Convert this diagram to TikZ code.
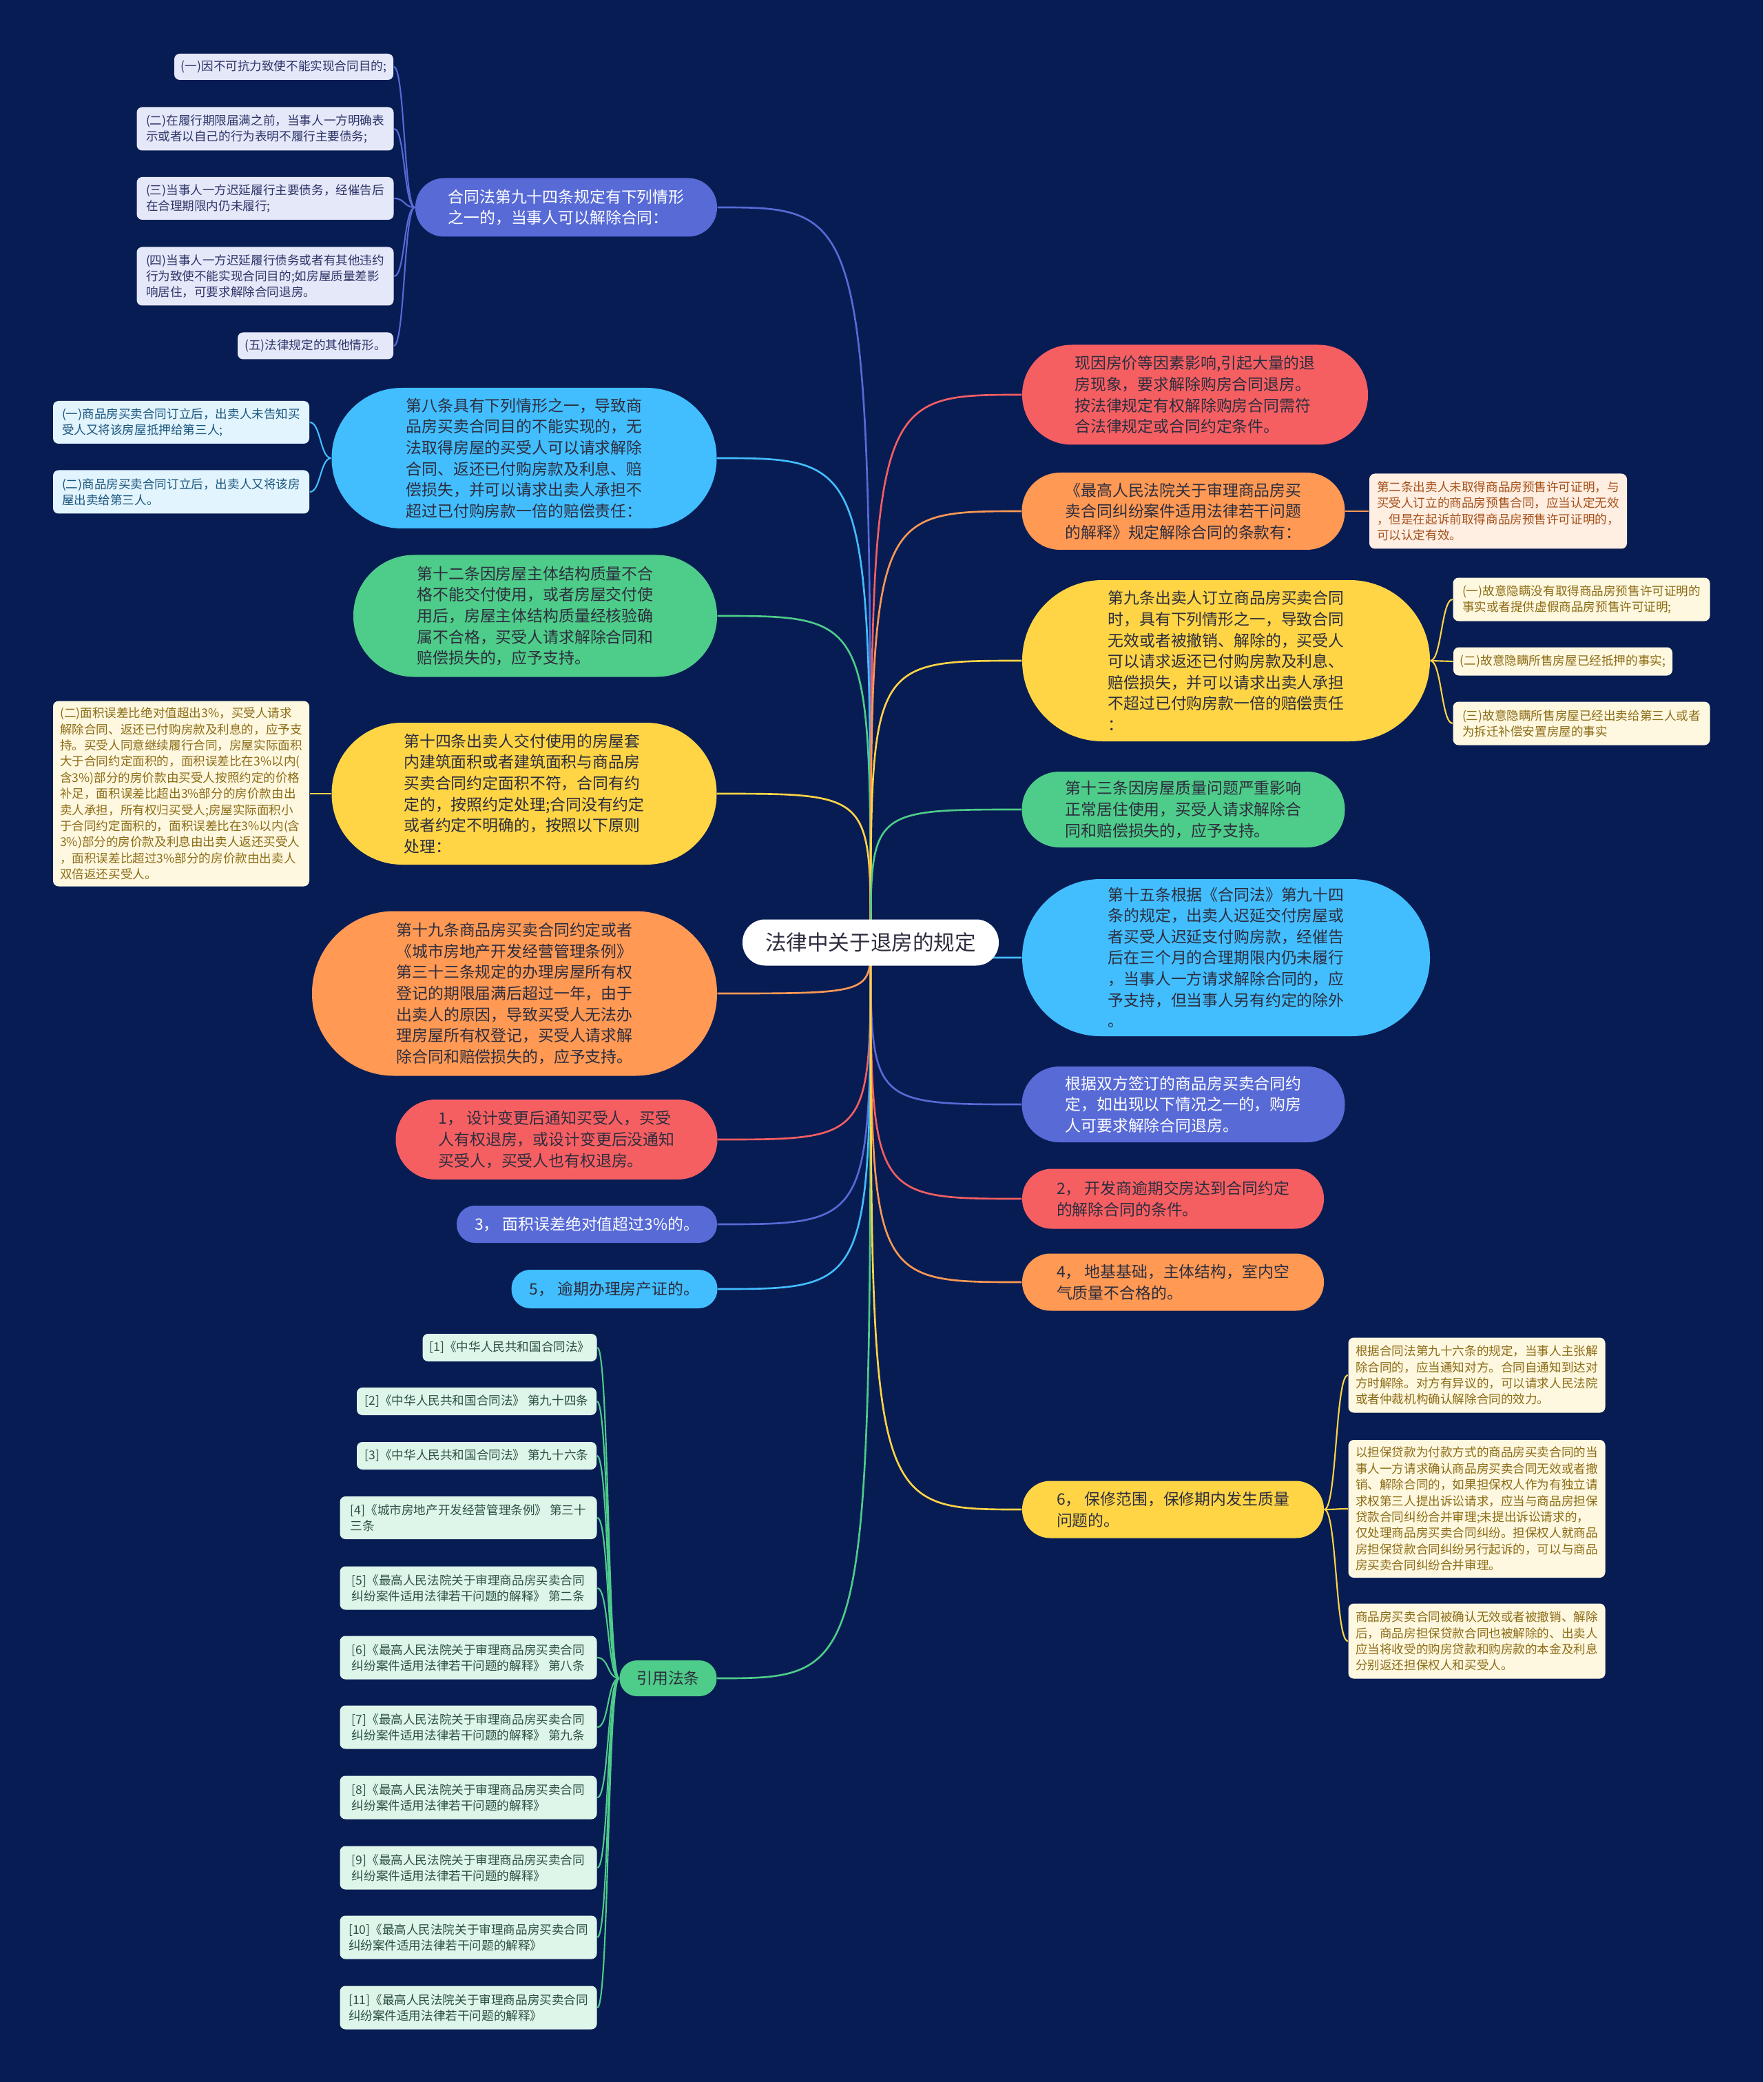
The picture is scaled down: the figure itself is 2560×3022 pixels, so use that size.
\documentclass[tikz,border=0pt]{standalone}
\usepackage{fontspec}
\setmainfont{Noto Sans CJK SC}
\usetikzlibrary{calc}
\definecolor{mmnavy}{RGB}{8,28,84}
\definecolor{mmindigo}{RGB}{87,106,214}
\definecolor{mmsky}{RGB}{66,190,255}
\definecolor{mmgreen}{RGB}{78,204,137}
\definecolor{mmyellow}{RGB}{255,213,69}
\definecolor{mmorange}{RGB}{255,153,84}
\definecolor{mmred}{RGB}{246,95,98}
\definecolor{mmink}{RGB}{45,45,62}
\definecolor{lfindigo}{RGB}{229,232,248}
\definecolor{lfindigoink}{RGB}{45,52,105}
\definecolor{lfsky}{RGB}{226,244,254}
\definecolor{lfskyink}{RGB}{25,85,125}
\definecolor{lfcream}{RGB}{255,248,224}
\definecolor{lfcreamink}{RGB}{140,108,22}
\definecolor{lfpeach}{RGB}{255,238,226}
\definecolor{lfpeachink}{RGB}{165,80,25}
\definecolor{lfmint}{RGB}{222,245,234}
\definecolor{lfmintink}{RGB}{45,80,68}
\newcommand{\rootsize}{\fontsize{8.7pt}{10.4pt}\selectfont}
\newcommand{\topicsize}{\fontsize{6.5pt}{8.7pt}\selectfont}
\newcommand{\leafsize}{\fontsize{5pt}{6.65pt}\selectfont}
\pgfdeclarelayer{bg}
\pgfdeclarelayer{links}
\pgfsetlayers{bg,links,main}

\begin{document}
\begin{tikzpicture}[x=0.01cm,y=-0.01cm,
    every node/.style={inner sep=0pt},
    dims/.style 2 args={minimum width=#1*0.01cm,minimum height=#2*0.01cm},
    pill/.style 2 args={dims={#1}{#2},rounded corners=#2*0.005cm-0.2pt},
    topic/.style={fill=#1,text=mmink,font=\topicsize,align=left},
    note/.style 2 args={fill=#1,text=#2,font=\leafsize,align=left,
                        rounded corners=0.08cm},
    link/.style={draw=#1,line width=0.75pt},
    twig/.style={draw=#1,line width=0.6pt}]

  \useasboundingbox (0,0) rectangle (2560,3022);
  \begin{pgfonlayer}{bg}
    \fill[mmnavy] (0,0) rectangle (2560,3022);
  \end{pgfonlayer}

  %% centre
  \node[pill={372}{67},fill=white,text=mmink,font=\rootsize] (root) at (1264,1368)
       {法律中关于退房的规定};

  %% left topics
  \node[topic=mmindigo,text=white,pill={438}{85}] (law94) at (822,301)
       {合同法第九十四条规定有下列情形\\之一的，当事人可以解除合同：};
  \node[topic=mmsky,pill={559}{204}] (art8) at (761,665)
       {第八条具有下列情形之一，导致商\\品房买卖合同目的不能实现的，无\\法取得房屋的买受人可以请求解除\\合同、返还已付购房款及利息、赔\\偿损失，并可以请求出卖人承担不\\超过已付购房款一倍的赔偿责任：};
  \node[topic=mmgreen,pill={528}{177}] (art12) at (777,894)
       {第十二条因房屋主体结构质量不合\\格不能交付使用，或者房屋交付使\\用后，房屋主体结构质量经核验确\\属不合格，买受人请求解除合同和\\赔偿损失的，应予支持。};
  \node[topic=mmyellow,pill={559}{206}] (art14) at (761,1152)
       {第十四条出卖人交付使用的房屋套\\内建筑面积或者建筑面积与商品房\\买卖合同约定面积不符，合同有约\\定的，按照约定处理;合同没有约定\\或者约定不明确的，按照以下原则\\处理：};
  \node[topic=mmorange,pill={588}{239}] (art19) at (747,1442)
       {第十九条商品房买卖合同约定或者\\《城市房地产开发经营管理条例》\\第三十三条规定的办理房屋所有权\\登记的期限届满后超过一年，由于\\出卖人的原因，导致买受人无法办\\理房屋所有权登记，买受人请求解\\除合同和赔偿损失的，应予支持。};
  \node[topic=mmred,pill={467}{116}] (item1) at (808,1654)
       {1， 设计变更后通知买受人，买受\\人有权退房，或设计变更后没通知\\买受人，买受人也有权退房。};
  \node[topic=mmindigo,text=white,pill={378}{54}] (item3) at (852,1777)
       {3， 面积误差绝对值超过3\%的。};
  \node[topic=mmsky,pill={299}{56}] (item5) at (892,1871)
       {5， 逾期办理房产证的。};
  \node[topic=mmgreen,pill={141}{52}] (refs) at (970,2436) {引用法条};

  %% right topics
  \node[topic=mmred,pill={502}{145}] (now) at (1735,573)
       {现因房价等因素影响,引起大量的退\\房现象，要求解除购房合同退房。\\按法律规定有权解除购房合同需符\\合法律规定或合同约定条件。};
  \node[topic=mmorange,pill={469}{112}] (interp) at (1718,742)
       {《最高人民法院关于审理商品房买\\卖合同纠纷案件适用法律若干问题\\的解释》规定解除合同的条款有：};
  \node[topic=mmyellow,pill={592}{234}] (art9) at (1780,959)
       {第九条出卖人订立商品房买卖合同\\时，具有下列情形之一，导致合同\\无效或者被撤销、解除的，买受人\\可以请求返还已付购房款及利息、\\赔偿损失，并可以请求出卖人承担\\不超过已付购房款一倍的赔偿责任\\：};
  \node[topic=mmgreen,pill={469}{110}] (art13) at (1718,1175)
       {第十三条因房屋质量问题严重影响\\正常居住使用，买受人请求解除合\\同和赔偿损失的，应予支持。};
  \node[topic=mmsky,pill={592}{228}] (art15) at (1780,1390)
       {第十五条根据《合同法》第九十四\\条的规定，出卖人迟延交付房屋或\\者买受人迟延支付购房款，经催告\\后在三个月的合理期限内仍未履行\\，当事人一方请求解除合同的，应\\予支持，但当事人另有约定的除外\\。};
  \node[topic=mmindigo,text=white,pill={469}{110}] (deal) at (1718,1603)
       {根据双方签订的商品房买卖合同约\\定，如出现以下情况之一的，购房\\人可要求解除合同退房。};
  \node[topic=mmred,pill={438}{87}] (item2) at (1703,1740)
       {2， 开发商逾期交房达到合同约定\\的解除合同的条件。};
  \node[topic=mmorange,pill={438}{83}] (item4) at (1703,1861)
       {4， 地基基础，主体结构，室内空\\气质量不合格的。};
  \node[topic=mmyellow,pill={438}{83}] (item6) at (1703,2191)
       {6， 保修范围，保修期内发生质量\\问题的。};

  %% leaves of law94
  \node[note={lfindigo}{lfindigoink},dims={318}{38}] (l94a) at (412,97)
       {(一)因不可抗力致使不能实现合同目的;};
  \node[note={lfindigo}{lfindigoink},dims={373}{63}] (l94b) at (385,187)
       {(二)在履行期限届满之前，当事人一方明确表\\示或者以自己的行为表明不履行主要债务;};
  \node[note={lfindigo}{lfindigoink},dims={373}{62}] (l94c) at (385,288)
       {(三)当事人一方迟延履行主要债务，经催告后\\在合理期限内仍未履行;};
  \node[note={lfindigo}{lfindigoink},dims={373}{85}] (l94d) at (385,401)
       {(四)当事人一方迟延履行债务或者有其他违约\\行为致使不能实现合同目的;如房屋质量差影\\响居住，可要求解除合同退房。};
  \node[note={lfindigo}{lfindigoink},dims={226}{39}] (l94e) at (458,502)
       {(五)法律规定的其他情形。};

  %% leaves of art8 and art14
  \node[note={lfsky}{lfskyink},dims={372}{62}] (art8a) at (263,613)
       {(一)商品房买卖合同订立后，出卖人未告知买\\受人又将该房屋抵押给第三人;};
  \node[note={lfsky}{lfskyink},dims={372}{63}] (art8b) at (263,714)
       {(二)商品房买卖合同订立后，出卖人又将该房\\屋出卖给第三人。};
  \node[note={lfcream}{lfcreamink},dims={372}{269}] (art14b) at (263,1152)
       {(二)面积误差比绝对值超出3\%，买受人请求\\解除合同、返还已付购房款及利息的，应予支\\持。买受人同意继续履行合同，房屋实际面积\\大于合同约定面积的，面积误差比在3\%以内(\\含3\%)部分的房价款由买受人按照约定的价格\\补足，面积误差比超出3\%部分的房价款由出\\卖人承担，所有权归买受人;房屋实际面积小\\于合同约定面积的，面积误差比在3\%以内(含\\3\%)部分的房价款及利息由出卖人返还买受人\\，面积误差比超过3\%部分的房价款由出卖人\\双倍返还买受人。};

  %% right leaves
  \node[note={lfpeach}{lfpeachink},dims={374}{109}] (interpa) at (2175,742)
       {第二条出卖人未取得商品房预售许可证明，与\\买受人订立的商品房预售合同，应当认定无效\\，但是在起诉前取得商品房预售许可证明的，\\可以认定有效。};
  \node[note={lfcream}{lfcreamink},dims={373}{63}] (art9a) at (2296,870)
       {(一)故意隐瞒没有取得商品房预售许可证明的\\事实或者提供虚假商品房预售许可证明;};
  \node[note={lfcream}{lfcreamink},dims={318}{41}] (art9b) at (2269,960)
       {(二)故意隐瞒所售房屋已经抵押的事实;};
  \node[note={lfcream}{lfcreamink},dims={373}{63}] (art9c) at (2296,1050)
       {(三)故意隐瞒所售房屋已经出卖给第三人或者\\为拆迁补偿安置房屋的事实};
  \node[note={lfcream}{lfcreamink},dims={373}{109}] (item6a) at (2144,1996)
       {根据合同法第九十六条的规定，当事人主张解\\除合同的，应当通知对方。合同自通知到达对\\方时解除。对方有异议的，可以请求人民法院\\或者仲裁机构确认解除合同的效力。};
  \node[note={lfcream}{lfcreamink},dims={373}{200}] (item6b) at (2144,2190)
       {以担保贷款为付款方式的商品房买卖合同的当\\事人一方请求确认商品房买卖合同无效或者撤\\销、解除合同的，如果担保权人作为有独立请\\求权第三人提出诉讼请求，应当与商品房担保\\贷款合同纠纷合并审理;未提出诉讼请求的，\\仅处理商品房买卖合同纠纷。担保权人就商品\\房担保贷款合同纠纷另行起诉的，可以与商品\\房买卖合同纠纷合并审理。};
  \node[note={lfcream}{lfcreamink},dims={373}{109}] (item6c) at (2144,2382)
       {商品房买卖合同被确认无效或者被撤销、解除\\后，商品房担保贷款合同也被解除的、出卖人\\应当将收受的购房贷款和购房款的本金及利息\\分别返还担保权人和买受人。};

  %% references
  \node[note={lfmint}{lfmintink},dims={253}{40}] (ref1) at (740,1956)
       {[1]《中华人民共和国合同法》};
  \node[note={lfmint}{lfmintink},dims={348}{40}] (ref2) at (692,2034)
       {[2]《中华人民共和国合同法》 第九十四条};
  \node[note={lfmint}{lfmintink},dims={348}{40}] (ref3) at (692,2113)
       {[3]《中华人民共和国合同法》 第九十六条};
  \node[note={lfmint}{lfmintink},dims={373}{62}] (ref4) at (680,2203)
       {[4]《城市房地产开发经营管理条例》 第三十\\三条};
  \node[note={lfmint}{lfmintink},dims={373}{63}] (ref5) at (680,2305)
       {[5]《最高人民法院关于审理商品房买卖合同\\纠纷案件适用法律若干问题的解释》 第二条};
  \node[note={lfmint}{lfmintink},dims={373}{63}] (ref6) at (680,2406)
       {[6]《最高人民法院关于审理商品房买卖合同\\纠纷案件适用法律若干问题的解释》 第八条};
  \node[note={lfmint}{lfmintink},dims={373}{63}] (ref7) at (680,2507)
       {[7]《最高人民法院关于审理商品房买卖合同\\纠纷案件适用法律若干问题的解释》 第九条};
  \node[note={lfmint}{lfmintink},dims={373}{63}] (ref8) at (680,2609)
       {[8]《最高人民法院关于审理商品房买卖合同\\纠纷案件适用法律若干问题的解释》};
  \node[note={lfmint}{lfmintink},dims={373}{63}] (ref9) at (680,2711)
       {[9]《最高人民法院关于审理商品房买卖合同\\纠纷案件适用法律若干问题的解释》};
  \node[note={lfmint}{lfmintink},dims={373}{63}] (ref10) at (680,2812)
       {[10]《最高人民法院关于审理商品房买卖合同\\纠纷案件适用法律若干问题的解释》};
  \node[note={lfmint}{lfmintink},dims={373}{63}] (ref11) at (680,2914)
       {[11]《最高人民法院关于审理商品房买卖合同\\纠纷案件适用法律若干问题的解释》};

  \begin{pgfonlayer}{links}
  %% centre to topics
  \draw[link=mmindigo] (root.center) .. controls (root.center |- law94.east) .. (law94.east);
  \draw[link=mmsky]    (root.center) .. controls (root.center |- art8.east) .. (art8.east);
  \draw[link=mmgreen]  (root.center) .. controls (root.center |- art12.east) .. (art12.east);
  \draw[link=mmyellow] (root.center) .. controls (root.center |- art14.east) .. (art14.east);
  \draw[link=mmorange] (root.center) .. controls (root.center |- art19.east) .. (art19.east);
  \draw[link=mmred]    (root.center) .. controls (root.center |- item1.east) .. (item1.east);
  \draw[link=mmindigo] (root.center) .. controls (root.center |- item3.east) .. (item3.east);
  \draw[link=mmsky]    (root.center) .. controls (root.center |- item5.east) .. (item5.east);
  \draw[link=mmgreen]  (root.center) .. controls (root.center |- refs.east) .. (refs.east);
  \draw[link=mmred]    (root.center) .. controls (root.center |- now.west) .. (now.west);
  \draw[link=mmorange] (root.center) .. controls (root.center |- interp.west) .. (interp.west);
  \draw[link=mmyellow] (root.center) .. controls (root.center |- art9.west) .. (art9.west);
  \draw[link=mmgreen]  (root.center) .. controls (root.center |- art13.west) .. (art13.west);
  \draw[link=mmsky]    (root.center) .. controls (root.center |- art15.west) .. (art15.west);
  \draw[link=mmindigo] (root.center) .. controls (root.center |- deal.west) .. (deal.west);
  \draw[link=mmred]    (root.center) .. controls (root.center |- item2.west) .. (item2.west);
  \draw[link=mmorange] (root.center) .. controls (root.center |- item4.west) .. (item4.west);
  \draw[link=mmyellow] (root.center) .. controls (root.center |- item6.west) .. (item6.west);

  %% topics to leaves
  \draw[twig=mmindigo] (law94.west) .. controls +(-16,0) and +(16,0) .. (l94a.east);
  \draw[twig=mmindigo] (law94.west) .. controls +(-16,0) and +(16,0) .. (l94b.east);
  \draw[twig=mmindigo] (law94.west) .. controls +(-16,0) and +(16,0) .. (l94c.east);
  \draw[twig=mmindigo] (law94.west) .. controls +(-16,0) and +(16,0) .. (l94d.east);
  \draw[twig=mmindigo] (law94.west) .. controls +(-16,0) and +(16,0) .. (l94e.east);
  \draw[twig=mmsky] (art8.west) .. controls +(-16,0) and +(16,0) .. (art8a.east);
  \draw[twig=mmsky] (art8.west) .. controls +(-16,0) and +(16,0) .. (art8b.east);
  \draw[twig=mmyellow] (art14.west) -- (art14b.east);
  \draw[twig=mmorange] (interp.east) -- (interpa.west);
  \draw[twig=mmyellow] (art9.east) .. controls +(16,0) and +(-16,0) .. (art9a.west);
  \draw[twig=mmyellow] (art9.east) .. controls +(16,0) and +(-16,0) .. (art9b.west);
  \draw[twig=mmyellow] (art9.east) .. controls +(16,0) and +(-16,0) .. (art9c.west);
  \draw[twig=mmyellow] (item6.east) .. controls +(18,0) and +(-18,0) .. (item6a.west);
  \draw[twig=mmyellow] (item6.east) .. controls +(18,0) and +(-18,0) .. (item6b.west);
  \draw[twig=mmyellow] (item6.east) .. controls +(18,0) and +(-18,0) .. (item6c.west);
  \draw[twig=mmgreen] (refs.west) .. controls +(-17,0) and +(17,0) .. (ref1.east);
  \draw[twig=mmgreen] (refs.west) .. controls +(-17,0) and +(17,0) .. (ref2.east);
  \draw[twig=mmgreen] (refs.west) .. controls +(-17,0) and +(17,0) .. (ref3.east);
  \draw[twig=mmgreen] (refs.west) .. controls +(-17,0) and +(17,0) .. (ref4.east);
  \draw[twig=mmgreen] (refs.west) .. controls +(-17,0) and +(17,0) .. (ref5.east);
  \draw[twig=mmgreen] (refs.west) .. controls +(-17,0) and +(17,0) .. (ref6.east);
  \draw[twig=mmgreen] (refs.west) .. controls +(-17,0) and +(17,0) .. (ref7.east);
  \draw[twig=mmgreen] (refs.west) .. controls +(-17,0) and +(17,0) .. (ref8.east);
  \draw[twig=mmgreen] (refs.west) .. controls +(-17,0) and +(17,0) .. (ref9.east);
  \draw[twig=mmgreen] (refs.west) .. controls +(-17,0) and +(17,0) .. (ref10.east);
  \draw[twig=mmgreen] (refs.west) .. controls +(-17,0) and +(17,0) .. (ref11.east);
  \end{pgfonlayer}
\end{tikzpicture}
\end{document}
